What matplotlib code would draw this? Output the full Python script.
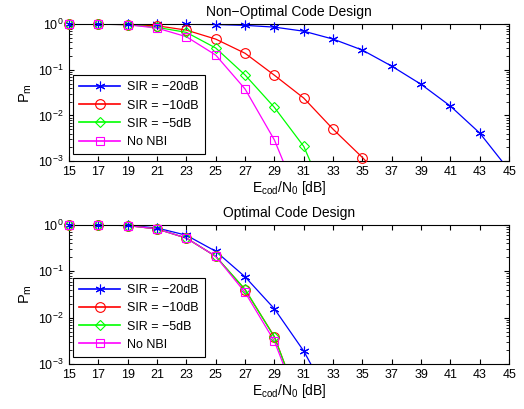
import matplotlib
matplotlib.use("Agg")
import matplotlib.pyplot as plt
from matplotlib.lines import Line2D
from matplotlib.ticker import LogLocator, NullFormatter

plt.rcParams['font.family'] = ['Liberation Sans', 'DejaVu Sans']
plt.rcParams['mathtext.fontset'] = 'custom'
plt.rcParams['mathtext.rm'] = 'Liberation Sans'
plt.rcParams['mathtext.it'] = 'Liberation Sans'

ebno = [15, 17, 19, 21, 23, 25, 27, 29, 31, 33, 35, 37, 39, 41, 43, 45]
labels = ["SIR = \u221220dB", "SIR = \u221210dB", "SIR = \u22125dB", "No NBI"]

# non-optimal code design
nonopt_sir20 = [1.0, 1.0, 1.0, 0.995, 0.99, 0.98, 0.94, 0.86, 0.70, 0.47, 0.27,
                0.12, 0.048, 0.016, 0.0041, 0.00063]
nonopt_sir10 = [1.0, 1.0, 0.98, 0.92, 0.74, 0.47, 0.23, 0.076, 0.024, 0.005, 0.0012,
                0.00025]
nonopt_sir5 = [1.0, 1.0, 0.97, 0.85, 0.66, 0.30, 0.077, 0.015, 0.0021, 0.00007]
nonopt_nonbi = [1.0, 1.0, 0.97, 0.82, 0.53, 0.21, 0.038, 0.0029, 0.00008]

# optimal code design
opt_sir20 = [1.0, 1.0, 0.98, 0.86, 0.60, 0.27, 0.076, 0.0155, 0.0019, 0.00013]
opt_sir10 = [1.0, 1.0, 0.97, 0.82, 0.52, 0.21, 0.040, 0.0039, 0.00008]
opt_sir5 = [1.0, 1.0, 0.97, 0.82, 0.52, 0.21, 0.041, 0.0038, 0.00008]
opt_nonbi = [1.0, 1.0, 0.97, 0.82, 0.52, 0.21, 0.035, 0.0031, 0.00007]

colors = ['#0000ff', '#ff0000', '#00ff00', '#ff00ff']
markers = [(6, 2, 0), 'o', 'D', 's']
msizes = [7, 7, 5.5, 6]

fig = plt.figure(figsize=(5.24, 4.09), dpi=100)
ax1 = fig.add_axes([0.1317, 0.606, 0.840, 0.335])
ax2 = fig.add_axes([0.1317, 0.110, 0.840, 0.340])


def draw(ax, series, title):
    handles = []
    for ys, c, m, ms, lab in zip(series, colors, markers, msizes, labels):
        xs = ebno[:len(ys)]
        ax.plot(xs, ys, color=c, lw=0.9)
        # markers are not clipped by the axes box (like MATLAB), only in-range ones
        px = [x for x, y in zip(xs, ys) if y >= 1e-3]
        py = [y for y in ys if y >= 1e-3]
        ax.plot(px, py, ls='none', marker=m, ms=ms, mfc='none', mec=c,
                mew=0.8, clip_on=False, zorder=3)
        handles.append(Line2D([], [], color=c, lw=1.2, marker=m, ms=ms,
                              mfc='none', mec=c, mew=0.8, label=lab))
    ax.set_yscale('log')
    ax.set_xlim(15, 45)
    ax.set_ylim(1e-3, 1)
    ax.set_xticks(ebno)
    ax.yaxis.set_major_locator(LogLocator(base=10, numticks=10))
    ax.yaxis.set_minor_locator(LogLocator(base=10, subs=range(2, 10), numticks=20))
    ax.yaxis.set_minor_formatter(NullFormatter())
    ax.tick_params(which='both', direction='in', top=True, right=True, labelsize=9)
    ax.tick_params(which='major', length=3.5)
    ax.tick_params(which='minor', length=2)
    ax.tick_params(axis='y', pad=4)
    for s in ax.spines.values():
        s.set_linewidth(0.8)
    ax.set_title(title, fontsize=10, pad=6)
    ax.set_xlabel(r'$\mathregular{E_{cod}/N_0}$ [dB]', fontsize=10, labelpad=1)
    ax.set_ylabel(r'$\mathregular{P_m}$', fontsize=10.5, labelpad=3)
    leg = ax.legend(handles=handles, loc='lower left', bbox_to_anchor=(0.009, 0.05),
                    fontsize=9, fancybox=False, framealpha=1, edgecolor='black',
                    borderpad=0.5, labelspacing=0.5, handlelength=3.3,
                    handletextpad=0.5, borderaxespad=0)
    leg.get_frame().set_linewidth(0.8)


draw(ax1, [nonopt_sir20, nonopt_sir10, nonopt_sir5, nonopt_nonbi], 'Non\u2212Optimal Code Design')
draw(ax2, [opt_sir20, opt_sir10, opt_sir5, opt_nonbi], 'Optimal Code Design')

fig.savefig('out.png', dpi=100)
